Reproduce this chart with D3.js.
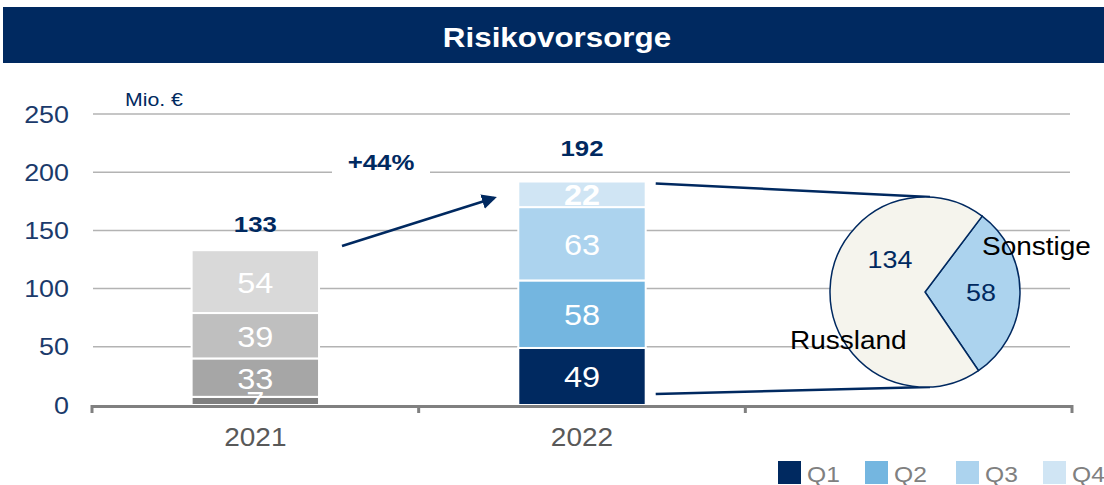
<!DOCTYPE html>
<html>
<head>
<meta charset="utf-8">
<script src="https://cdn.jsdelivr.net/npm/d3@7"></script>
<style>
  body { margin: 0; background: #fff; }
  text { font-family: "Liberation Sans", Arial, sans-serif; }
</style>
</head>
<body>
<div id="chart"></div>
<script>
// data
let years = ['2021', '2022', ''];
let quarters = ['Q1', 'Q2', 'Q3', 'Q4'];
let values2021 = [7, 33, 39, 54];
let values2022 = [49, 58, 63, 22];
let totals = [133, 192];
let yTicks = [0, 50, 100, 150, 200, 250];
let pieLabels = ['Sonstige', 'Russland'];
let pieValues = [58, 134];
let growthLabel = '+44%';

let colors2021 = ['#7f7f7f', '#a6a6a6', '#bfbfbf', '#d9d9d9'];
let colors2022 = ['#002960', '#74b6e0', '#acd3ee', '#d0e5f4'];
let navy = '#002960';

// the original text is a bit wider than Arial, stretch it horizontally
let sx = 1.12;
let tr = function(x, y) { return 'translate(' + x + ',' + y + ') scale(' + sx + ',1)'; };

let width = 1104, height = 485;
let svg = d3.select('#chart').append('svg')
  .attr('width', width)
  .attr('height', height);

// title banner
svg.append('rect')
  .attr('x', 3).attr('y', 7)
  .attr('width', width - 3).attr('height', 56)
  .attr('fill', navy);
svg.append('text')
  .attr('transform', tr(557, 47))
  .attr('text-anchor', 'middle')
  .style('font-size', '28px')
  .style('font-weight', 'bold')
  .style('fill', 'white')
  .text('Risikovorsorge');

// scales
let xScale = d3.scaleBand().domain(years).range([92, 1072]);
let yScale = d3.scaleLinear().domain([0, 250]).range([405, 114]);
let barW = xScale.bandwidth() * 0.39;

// gridlines
svg.selectAll('line.grid')
  .data(yTicks.filter(d => d > 0))
  .enter()
  .append('line')
  .attr('class', 'grid')
  .attr('x1', 93).attr('x2', 1070)
  .attr('y1', d => yScale(d)).attr('y2', d => yScale(d))
  .attr('stroke', '#b3b3b3')
  .attr('stroke-width', 1.5);

// y tick labels
svg.selectAll('text.ytick')
  .data(yTicks)
  .enter()
  .append('text')
  .attr('class', 'ytick')
  .attr('transform', d => tr(69, yScale(d) + 8.5))
  .attr('text-anchor', 'end')
  .style('font-size', '24px')
  .style('fill', '#1b3a6b')
  .text(d => d);

svg.append('text')
  .attr('transform', tr(125, 106))
  .style('font-size', '19px')
  .style('fill', navy)
  .text('Mio. €');

// stacked bars
let stacks = [values2021, values2022];
let palettes = [colors2021, colors2022];
let totalOffsets = [18, 26];
stacks.forEach((vals, i) => {
  let cx = xScale(years[i]) + xScale.bandwidth() / 2;
  let segs = [];
  let acc = 0;
  vals.forEach((v, j) => { segs.push({ v: v, y0: acc, y1: acc + v, c: palettes[i][j] }); acc += v; });
  let g = svg.append('g');
  g.selectAll('rect')
    .data(segs)
    .enter()
    .append('rect')
    .attr('x', cx - barW / 2)
    .attr('width', barW)
    .attr('y', d => yScale(d.y1))
    .attr('height', d => yScale(d.y0) - yScale(d.y1))
    .attr('fill', d => d.c)
    .attr('stroke', 'white')
    .attr('stroke-width', 2);
  g.selectAll('text')
    .data(segs)
    .enter()
    .append('text')
    .attr('transform', d => tr(cx, (yScale(d.y0) + yScale(d.y1)) / 2 + 11))
    .attr('text-anchor', 'middle')
    .style('font-size', '29px')
    .style('font-weight', d => d.v === 22 ? 'bold' : 'normal')
    .style('fill', 'white')
    .text(d => d.v);
  svg.append('text')
    .attr('transform', tr(cx, yScale(totals[i]) - totalOffsets[i]))
    .attr('text-anchor', 'middle')
    .style('font-size', '23px')
    .style('font-weight', 'bold')
    .style('fill', navy)
    .text(totals[i]);
});

// x axis baseline and ticks
svg.append('line')
  .attr('x1', 92).attr('x2', 1073)
  .attr('y1', 406.5).attr('y2', 406.5)
  .attr('stroke', '#808080')
  .attr('stroke-width', 3);
svg.selectAll('line.xtick')
  .data(years.map(d => xScale(d)).concat([1072]))
  .enter()
  .append('line')
  .attr('class', 'xtick')
  .attr('x1', d => d).attr('x2', d => d)
  .attr('y1', 405).attr('y2', 413)
  .attr('stroke', '#808080')
  .attr('stroke-width', 3);
svg.selectAll('text.xlab')
  .data(years.filter(d => d))
  .enter()
  .append('text')
  .attr('class', 'xlab')
  .attr('transform', d => tr(xScale(d) + xScale.bandwidth() / 2, 446))
  .attr('text-anchor', 'middle')
  .style('font-size', '25px')
  .style('fill', '#595959')
  .text(d => d);

// growth label and arrow
svg.append('rect')
  .attr('x', 332).attr('y', 150)
  .attr('width', 98).attr('height', 30)
  .attr('fill', 'white');
svg.append('text')
  .attr('transform', tr(381, 170))
  .attr('text-anchor', 'middle')
  .style('font-size', '23px')
  .style('font-weight', 'bold')
  .style('fill', navy)
  .text(growthLabel);

svg.append('defs').append('marker')
  .attr('id', 'arrow')
  .attr('viewBox', '0 0 10 10')
  .attr('refX', 8).attr('refY', 5)
  .attr('markerWidth', 6).attr('markerHeight', 6)
  .attr('orient', 'auto')
  .append('path')
  .attr('d', 'M0,0 L10,5 L0,10 z')
  .attr('fill', navy);
svg.append('line')
  .attr('x1', 342).attr('y1', 246)
  .attr('x2', 494).attr('y2', 198)
  .attr('stroke', navy)
  .attr('stroke-width', 2.5)
  .attr('marker-end', 'url(#arrow)');

// pie
let pcx = 925, pcy = 292, pr = 95;
let barRight = xScale('2022') + xScale.bandwidth() / 2 + barW / 2;
svg.append('line')
  .attr('x1', barRight + 10).attr('y1', yScale(192) + 2)
  .attr('x2', pcx + 5).attr('y2', pcy - pr)
  .attr('stroke', navy).attr('stroke-width', 2.5);
svg.append('line')
  .attr('x1', barRight + 10).attr('y1', yScale(0) - 11)
  .attr('x2', pcx + 5).attr('y2', pcy + pr)
  .attr('stroke', navy).attr('stroke-width', 2.5);

let pie = d3.pie().sort(null).startAngle(37 * Math.PI / 180).endAngle(397 * Math.PI / 180);
let arc = d3.arc().innerRadius(0).outerRadius(pr);
let pieColors = ['#acd3ee', '#f5f4ed'];
let pg = svg.append('g').attr('transform', 'translate(' + pcx + ',' + pcy + ')');
pg.selectAll('path')
  .data(pie(pieValues))
  .enter()
  .append('path')
  .attr('d', arc)
  .attr('fill', (d, i) => pieColors[i])
  .attr('stroke', navy)
  .attr('stroke-width', 1.5);

let valuePos = [[56, 9], [-35, -24]];
pg.selectAll('text.pval')
  .data(pieValues)
  .enter()
  .append('text')
  .attr('class', 'pval')
  .attr('transform', (d, i) => tr(valuePos[i][0], valuePos[i][1]))
  .attr('text-anchor', 'middle')
  .style('font-size', '24px')
  .style('fill', navy)
  .text(d => d);

let namePos = [[982, 255], [790, 349]];
svg.selectAll('text.pname')
  .data(pieLabels)
  .enter()
  .append('text')
  .attr('class', 'pname')
  .attr('transform', (d, i) => tr(namePos[i][0], namePos[i][1]))
  .style('font-size', '25px')
  .style('fill', 'black')
  .text(d => d);

// legend
let legendX = [778, 865, 956, 1043];
let lg = svg.selectAll('g.legend')
  .data(quarters)
  .enter()
  .append('g')
  .attr('class', 'legend')
  .attr('transform', (d, i) => 'translate(' + legendX[i] + ',461)');
lg.append('rect')
  .attr('width', 23).attr('height', 23)
  .attr('fill', (d, i) => colors2022[i]);
lg.append('text')
  .attr('transform', tr(29, 21))
  .style('font-size', '22px')
  .style('fill', '#808080')
  .text(d => d);
</script>
</body>
</html>
